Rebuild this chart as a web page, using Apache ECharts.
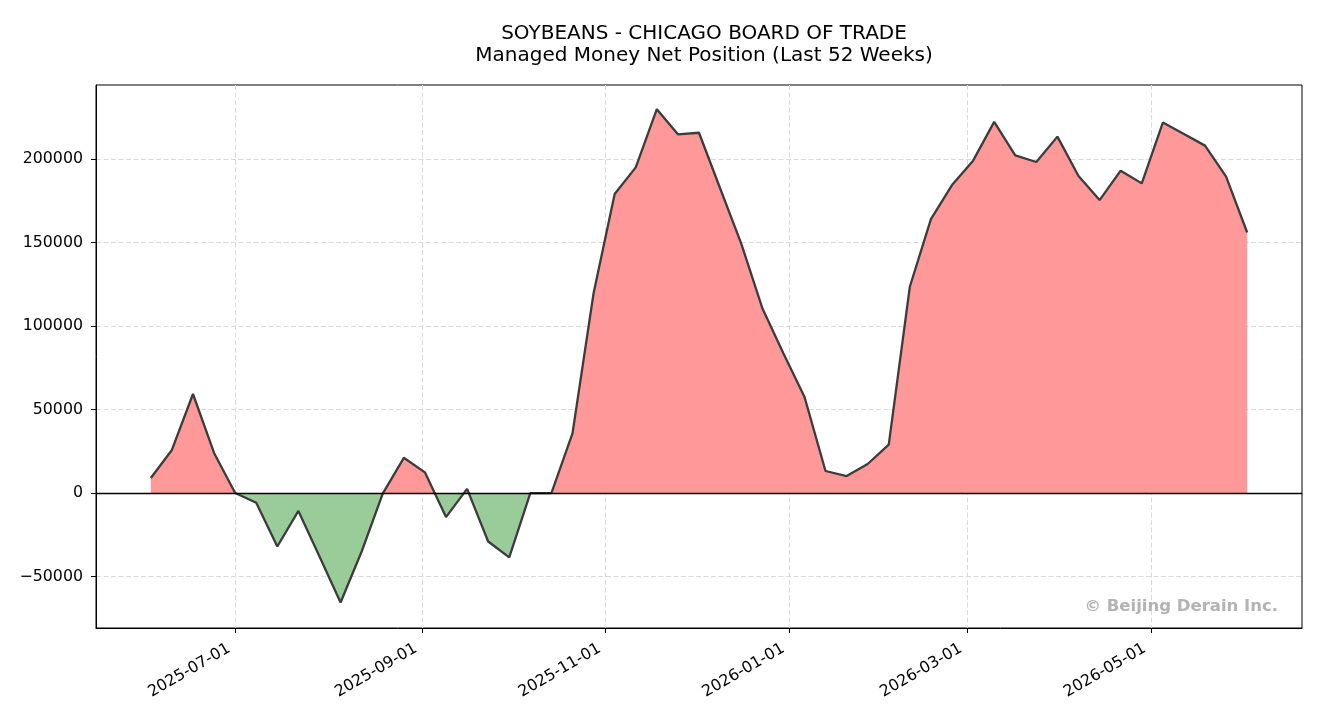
<!DOCTYPE html>
<html lang="en">
  <head>
    <meta charset="UTF-8" />
    <title>Soybeans - Managed Money Net Position</title>
    <script src="https://cdn.jsdelivr.net/npm/echarts@6/dist/echarts.min.js"></script>
    <style>
      html,
      body {
        margin: 0;
        padding: 0;
        background: #fff;
      }
      #chart {
        width: 1320px;
        height: 720px;
      }
    </style>
  </head>
  <body>
    <div id="chart"></div>

    <script>
      // weekly report dates (Tuesdays)
      var weeks = [
        '2025-06-03', '2025-06-10', '2025-06-17', '2025-06-24',
        '2025-07-01', '2025-07-08', '2025-07-15', '2025-07-22', '2025-07-29',
        '2025-08-05', '2025-08-12', '2025-08-19', '2025-08-26',
        '2025-09-02', '2025-09-09', '2025-09-16', '2025-09-23', '2025-09-30',
        '2025-10-07', '2025-10-14', '2025-10-21', '2025-10-28',
        '2025-11-04', '2025-11-11', '2025-11-18', '2025-11-25',
        '2025-12-02', '2025-12-09', '2025-12-16', '2025-12-23', '2025-12-30',
        '2026-01-06', '2026-01-13', '2026-01-20', '2026-01-27',
        '2026-02-03', '2026-02-10', '2026-02-17', '2026-02-24',
        '2026-03-03', '2026-03-10', '2026-03-17', '2026-03-24', '2026-03-31',
        '2026-04-07', '2026-04-14', '2026-04-21', '2026-04-28',
        '2026-05-05', '2026-05-12', '2026-05-19', '2026-05-26',
        '2026-06-02'
      ];

      // managed money net position (contracts)
      var netPosition = [
        9000, 25800, 59300, 24000,
        0, -5800, -32000, -10700, -38000,
        -65500, -35000, -300, 21100,
        12400, -14400, 2500, -29000, -38500,
        0, 0, 35700, 119600,
        179000, 195000, 229800, 214800,
        215700, 182500, 149500, 110800, 83700,
        57700, 13200, 10200, 17400,
        29000, 123500, 164000, 184400,
        199000, 222200, 202200, 198200, 213400,
        189800, 175400, 193000, 185400,
        221800, 215000, 208000, 189400,
        156000
      ];

      var xTicks = ['2025-07-01', '2025-09-01', '2025-11-01', '2026-01-01', '2026-03-01', '2026-05-01'];
      var yTicks = [-50000, 0, 50000, 100000, 150000, 200000];
      var xRange = ['2025-05-15T19:12:00Z', '2026-06-20T04:48:00Z'];
      var yRange = [-80800, 244300];

      var titleText = 'SOYBEANS - CHICAGO BOARD OF TRADE\nManaged Money Net Position (Last 52 Weeks)';
      var watermark = '\u00a9 Beijing Derain Inc.';

      var longColor = '#ff9999';
      var shortColor = '#99cc99';

      function toTime(s) {
        return new Date(s.length > 10 ? s : s + 'T00:00:00Z').getTime();
      }
      function pad2(n) {
        return n < 10 ? '0' + n : '' + n;
      }

      var seriesData = weeks.map(function (d, i) {
        return [toTime(d), netPosition[i]];
      });
      var xTickTimes = xTicks.map(toTime);

      // the area's bounding box runs from the highest to the lowest value,
      // so the colour switch at zero sits at this fraction from the top
      var hi = Math.max.apply(null, netPosition);
      var lo = Math.min.apply(null, netPosition);
      var zeroStop = hi / (hi - lo);
      var areaFill = new echarts.graphic.LinearGradient(0, 0, 0, 1, [
        { offset: 0, color: longColor },
        { offset: zeroStop, color: longColor },
        { offset: zeroStop, color: shortColor },
        { offset: 1, color: shortColor }
      ]);

      var chart = echarts.init(document.getElementById('chart'));
      var font = 'DejaVu Sans';

      var option = {
        animation: false,
        backgroundColor: '#fff',
        title: {
          text: titleText,
          left: 699,
          textAlign: 'center',
          top: 18,
          textStyle: {
            fontFamily: font,
            fontSize: 20,
            fontWeight: 'normal',
            color: '#000',
            lineHeight: 22
          }
        },
        grid: {
          left: 96,
          right: 18,
          top: 85,
          bottom: 92,
          show: true,
          borderColor: '#000',
          borderWidth: 1
        },
        // dates are plotted as UTC timestamps on a plain value axis
        xAxis: {
          type: 'value',
          min: toTime(xRange[0]),
          max: toTime(xRange[1]),
          axisLine: { show: true, onZero: false, lineStyle: { color: '#000', width: 1 } },
          axisTick: {
            show: true,
            customValues: xTickTimes,
            length: 5,
            lineStyle: { color: '#000', width: 1 }
          },
          axisLabel: {
            customValues: xTickTimes,
            rotate: 30,
            margin: 16,
            padding: [0, 7, 0, 0],
            color: '#000',
            fontFamily: font,
            fontSize: 15.8,
            formatter: function (v) {
              var d = new Date(v);
              return d.getUTCFullYear() + '-' + pad2(d.getUTCMonth() + 1) + '-' + pad2(d.getUTCDate());
            }
          },
          splitLine: {
            show: true,
            lineStyle: { type: [5, 2.5], color: '#dadada', width: 1 }
          }
        },
        yAxis: {
          type: 'value',
          min: yRange[0],
          max: yRange[1],
          axisLine: { show: true, lineStyle: { color: '#000', width: 1 } },
          axisTick: {
            show: true,
            customValues: yTicks,
            length: 5,
            lineStyle: { color: '#000', width: 1 }
          },
          axisLabel: {
            customValues: yTicks,
            margin: 13,
            color: '#000',
            fontFamily: font,
            fontSize: 15.8,
            formatter: function (v) {
              return v < 0 ? '\u2212' + Math.abs(v) : String(v);
            }
          },
          splitLine: {
            show: true,
            lineStyle: { type: [5, 2.5], color: '#dadada', width: 1 }
          }
        },
        graphic: [
          {
            type: 'text',
            right: 42,
            top: 598,
            z: 100,
            style: {
              text: watermark,
              fill: '#b3b3b3',
              font: 'bold 16.5px "DejaVu Sans"'
            }
          }
        ],
        series: [
          {
            name: 'area',
            type: 'line',
            data: seriesData,
            symbol: 'none',
            silent: true,
            z: 2,
            lineStyle: { width: 0, opacity: 0 },
            areaStyle: { color: areaFill, opacity: 1, origin: 0 }
          },
          {
            name: 'Net Position',
            type: 'line',
            data: seriesData,
            symbol: 'none',
            z: 4,
            lineStyle: { color: '#3c3c3c', width: 2.3 },
            markLine: {
              silent: true,
              symbol: 'none',
              label: { show: false },
              lineStyle: { color: '#000', width: 1.3, type: 'solid' },
              data: [{ yAxis: 0 }]
            }
          }
        ]
      };

      chart.setOption(option);
    </script>
  </body>
</html>
